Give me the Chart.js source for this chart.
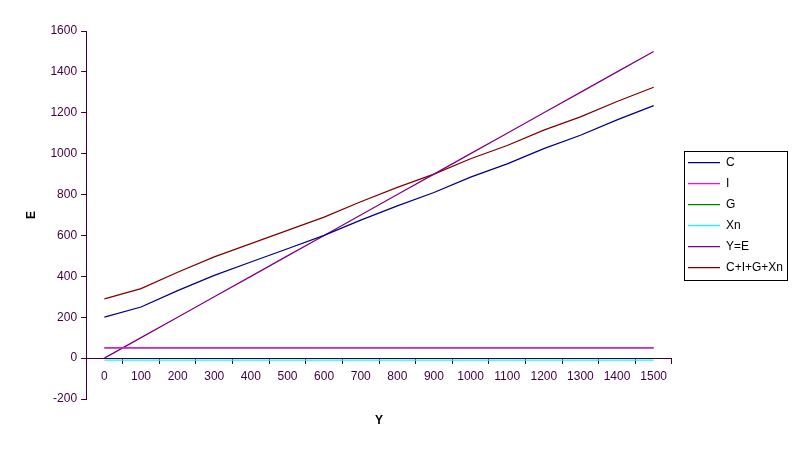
<!DOCTYPE html>
<html><head><meta charset="utf-8">
<script src="https://cdn.jsdelivr.net/npm/chart.js@4.4.0/dist/chart.umd.min.js"></script>
<style>html,body{margin:0;padding:0;background:#fff;}</style>
</head><body>
<canvas id="c" width="800" height="454"></canvas>
<script>
const categories = ['0','100','200','300','400','500','600','700','800','900','1000','1100','1200','1300','1400','1500'];
const seriesC = [200,250,330,405,470,535,600,675,745,810,885,950,1025,1090,1165,1235];
const seriesI = [50,50,50,50,50,50,50,50,50,50,50,50,50,50,50,50];
const seriesG = [50,50,50,50,50,50,50,50,50,50,50,50,50,50,50,50];
const seriesXn = [-10,-10,-10,-10,-10,-10,-10,-10,-10,-10,-10,-10,-10,-10,-10,-10];
const seriesYE = [0,100,200,300,400,500,600,700,800,900,1000,1100,1200,1300,1400,1500];
const seriesTotal = [290,340,420,495,560,625,690,765,835,900,975,1040,1115,1180,1255,1325];
const yMin = -200, yMax = 1600, yStep = 200;
const seriesNames = ['C','I','G','Xn','Y=E','C+I+G+Xn'];
const seriesColors = ['#000080','#ff00ff','#008000','#00ffff','#800080','#800000'];

const FONT = 'Liberation Sans, Arial, sans-serif';
const AX = '#400040';
const allSeries = [seriesC, seriesI, seriesG, seriesXn, seriesYE, seriesTotal];

const legendShift = {
  id: 'legendShift',
  afterLayout(chart) {
    const lg = chart.legend;
    if (lg) { lg.left += 7; lg.right += 7; }
  }
};
const legendBorder = {
  id: 'legendBorder',
  afterDraw(chart) {
    const lg = chart.legend;
    if (!lg || !lg.legendHitBoxes || !lg.legendHitBoxes.length) return;
    const hb = lg.legendHitBoxes;
    let l = Infinity, r = -Infinity;
    hb.forEach(h => { l = Math.min(l, h.left); r = Math.max(r, h.left + h.width); });
    const t = hb[0].top, b = hb[hb.length - 1].top + hb[hb.length - 1].height;
    const ctx = chart.ctx;
    ctx.save();
    ctx.strokeStyle = '#000';
    ctx.lineWidth = 1;
    ctx.strokeRect(Math.round(l - 4) + 0.5, Math.round(t - 6) + 0.5, Math.round(r - l + 8), Math.round(b - t + 12));
    ctx.restore();
  }
};
const xTitle = {
  id: 'xTitle',
  afterDraw(chart) {
    const a = chart.chartArea, ctx = chart.ctx;
    ctx.save();
    ctx.fillStyle = '#000';
    ctx.font = 'bold 12px ' + FONT;
    ctx.textAlign = 'center';
    ctx.textBaseline = 'middle';
    ctx.fillText('Y', (a.left + a.right) / 2, a.bottom + 22);
    ctx.restore();
  }
};

new Chart(document.getElementById('c'), {
  type: 'line',
  data: {
    labels: categories,
    datasets: allSeries.map((d, i) => ({
      label: seriesNames[i], data: d,
      borderColor: seriesColors[i], backgroundColor: seriesColors[i],
      borderWidth: 1.25, pointRadius: 0, tension: 0, fill: false
    }))
  },
  plugins: [legendShift, legendBorder, xTitle],
  options: {
    responsive: false, animation: false, devicePixelRatio: 1,
    layout: { padding: { left: 8, right: 14, top: 31, bottom: 55 } },
    plugins: {
      legend: {
        position: 'right',
        labels: { usePointStyle: true, pointStyle: 'line', pointStyleWidth: 32, boxHeight: 12,
          padding: 9, color: '#000', font: { family: FONT, size: 12 } }
      },
      tooltip: { enabled: false }
    },
    scales: {
      x: {
        type: 'category', offset: true, position: { y: 0 },
        grid: { offset: true, drawOnChartArea: false, drawTicks: true, tickLength: 5, color: AX },
        border: { color: AX, width: 1 },
        ticks: { color: AX, font: { family: FONT, size: 12 }, padding: 6, maxRotation: 0, autoSkip: false }
      },
      y: {
        min: yMin, max: yMax,
        ticks: { stepSize: yStep, color: AX, font: { family: FONT, size: 12 }, padding: 4,
          callback: v => String(v) },
        grid: { drawOnChartArea: false, drawTicks: true, tickLength: 5, color: AX },
        border: { color: AX, width: 1 },
        title: { display: true, text: 'E', color: '#000', font: { family: FONT, size: 12, weight: 'bold' }, padding: { top: 16, bottom: 8 } }
      }
    }
  }
});
</script>
</body></html>
